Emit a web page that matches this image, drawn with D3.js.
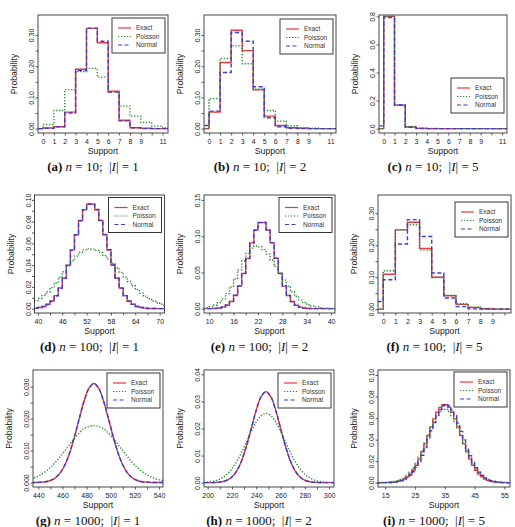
<!DOCTYPE html>
<html><head><meta charset="utf-8">
<script src="https://cdn.jsdelivr.net/npm/d3@7"></script>
<style>body{margin:0;background:#fff}svg{display:block}</style>
</head><body>
<script>
// ---------- data ----------
const smallX = [-1,0,1,2,3,4,5,6,7,8,9,10,11,12];
const aExact   = [0,0.002,0.006,0.053,0.19,0.321,0.275,0.12,0.027,0.003,0.001,0,0,0];
const aPoisson = [0,0.013,0.058,0.125,0.183,0.193,0.165,0.118,0.072,0.04,0.02,0.008,0.003,0];
const aNormal  = [0,0.001,0.006,0.05,0.186,0.322,0.28,0.117,0.025,0.003,0,0,0,0];

const bExact   = [0,0.053,0.212,0.315,0.25,0.124,0.04,0.01,0.003,0.001,0,0,0,0];
const bPoisson = [0,0.096,0.225,0.265,0.208,0.127,0.058,0.024,0.009,0.003,0.001,0,0,0];
const bNormal  = [0.01,0.056,0.18,0.308,0.28,0.134,0.035,0.006,0.001,0,0,0,0,0];

const cExact   = [0,0.8,0.168,0.012,0.002,0,0,0,0,0,0,0,0,0];
const cPoisson = [0,0.8,0.165,0.015,0.004,0.001,0,0,0,0,0,0,0,0];
const cNormal  = [0.02,0.792,0.17,0.01,0.001,0,0,0,0,0,0,0,0,0];

const dX = [38,39,40,41,42,43,44,45,46,47,48,49,50,51,52,53,54,55,56,57,58,59,60,61,62,63,64,65,66,67,68,69,70,71,72];
const dExact   = [0,0.0005,0.001,0.002,0.004,0.007,0.012,0.019,0.028,0.040,0.054,0.068,0.081,0.091,0.096,0.096,0.091,0.081,0.068,0.054,0.040,0.028,0.019,0.012,0.007,0.004,0.002,0.001,0.0005,0.0002,0.0001,0,0,0,0];
const dPoisson = [0.006,0.0075,0.0095,0.0122,0.0155,0.0193,0.0238,0.0287,0.0339,0.0391,0.044,0.0483,0.0518,0.054,0.055,0.0547,0.0536,0.0516,0.0488,0.0455,0.0417,0.0376,0.0334,0.0291,0.025,0.0211,0.0175,0.0143,0.0115,0.0091,0.0071,0.0054,0.0041,0.003,0.0022];
const dNormal  = [0,0.0004,0.001,0.002,0.0038,0.0068,0.0118,0.0188,0.0279,0.0398,0.0538,0.0679,0.0808,0.091,0.0962,0.0962,0.0912,0.0812,0.0682,0.0542,0.0401,0.028,0.0189,0.0119,0.0069,0.0039,0.002,0.001,0.0004,0.0002,0.0001,0,0,0,0];

const eX = [8,9,10,11,12,13,14,15,16,17,18,19,20,21,22,23,24,25,26,27,28,29,30,31,32,33,34,35,36,37,38,39,40,41,42];
const eExact   = [0,0,0.0001,0.0003,0.0009,0.0021,0.0048,0.0098,0.0182,0.0311,0.0486,0.0694,0.0908,0.1086,0.119,0.119,0.1086,0.0908,0.0694,0.0486,0.0311,0.0182,0.0098,0.0048,0.0021,0.0009,0.0003,0.0001,0,0,0,0,0,0,0];
const ePoisson = [0.0007,0.0014,0.0026,0.0048,0.0083,0.0135,0.0207,0.0301,0.0414,0.0537,0.0659,0.0763,0.0836,0.0865,0.0853,0.0815,0.0753,0.0673,0.0582,0.0487,0.0394,0.0308,0.0234,0.0171,0.0121,0.0083,0.0055,0.0036,0.0022,0.0013,0.0008,0.0004,0.0002,0.0001,0];
const eNormal  = [0,0,0.0001,0.0004,0.001,0.0023,0.005,0.0101,0.0185,0.0313,0.0487,0.0693,0.0905,0.1082,0.1188,0.1191,0.109,0.0912,0.0697,0.0488,0.0312,0.0182,0.0097,0.0047,0.002,0.0008,0.0003,0.0001,0,0,0,0,0,0,0];

const fX = [-1,0,1,2,3,4,5,6,7,8,9,10,11];
const fExact   = [0,0.109,0.248,0.272,0.19,0.10,0.042,0.015,0.005,0.0015,0,0,0];
const fPoisson = [0,0.12,0.248,0.264,0.185,0.099,0.044,0.017,0.006,0.002,0.0005,0,0];
const fNormal  = [0.024,0.092,0.204,0.28,0.227,0.113,0.035,0.008,0.001,0,0,0,0];

const gX = [434,438,442,446,450,454,458,462,466,470,474,478,482,486,490,494,498,502,506,510,514,518,522,526,530,534,538,542,546];
const gExact   = [0.00001,0.00003,0.0001,0.00025,0.00063,0.00143,0.00294,0.00549,0.00932,0.01436,0.0201,0.02558,0.02955,0.031,0.02955,0.02558,0.0201,0.01436,0.00932,0.00549,0.00294,0.00143,0.00063,0.00025,0.0001,0.00003,0.00001,0,0];
const gPoisson = [0.0011,0.00167,0.00244,0.00345,0.00472,0.00625,0.00801,0.00993,0.01191,0.01382,0.01551,0.01685,0.01755,0.0178,0.01755,0.01685,0.01551,0.01382,0.01191,0.00993,0.00801,0.00625,0.00472,0.00345,0.00244,0.00167,0.0011,0.0007,0.00044];
const gNormal  = [0.00001,0.00003,0.0001,0.00026,0.00064,0.00145,0.00296,0.0055,0.00934,0.01438,0.02012,0.02557,0.02952,0.03095,0.02952,0.02557,0.02012,0.01438,0.00934,0.0055,0.00296,0.00145,0.00064,0.00026,0.0001,0.00003,0.00001,0,0];

const hX = [192,196,200,204,208,212,216,220,224,228,232,236,240,244,248,252,256,260,264,268,272,276,280,284,288,292,296,300,304,308];
const hExact   = [0,0,0.00001,0.00003,0.00011,0.00034,0.00089,0.00208,0.00435,0.00813,0.01355,0.02016,0.02678,0.03175,0.0336,0.03175,0.02678,0.02016,0.01355,0.00813,0.00435,0.00208,0.00089,0.00034,0.00011,0.00003,0.00001,0,0,0];
const hPoisson = [0.00004,0.0001,0.00022,0.00048,0.00095,0.00178,0.00311,0.00511,0.00783,0.01124,0.01511,0.01904,0.02244,0.02477,0.0256,0.02477,0.02244,0.01904,0.01511,0.01124,0.00783,0.00511,0.00311,0.00178,0.00095,0.00048,0.00022,0.0001,0.00004,0.00002];
const hNormal  = [0,0,0.00001,0.00003,0.00011,0.00035,0.0009,0.0021,0.00437,0.00815,0.01357,0.02017,0.02676,0.0317,0.03352,0.0317,0.02676,0.02017,0.01357,0.00815,0.00437,0.0021,0.0009,0.00035,0.00011,0.00003,0.00001,0,0,0];

const iX = [12,13,14,15,16,17,18,19,20,21,22,23,24,25,26,27,28,29,30,31,32,33,34,35,36,37,38,39,40,41,42,43,44,45,46,47,48,49,50,51,52,53,54,55,56,57,58];
const iExact   = [0,0,0.00005,0.0001,0.0002,0.0004,0.0008,0.0013,0.0022,0.0035,0.0054,0.0081,0.0116,0.0162,0.0219,0.0286,0.0361,0.044,0.0519,0.0593,0.0655,0.070,0.0724,0.0724,0.070,0.0655,0.0593,0.0519,0.044,0.0361,0.0286,0.0219,0.0162,0.0116,0.0081,0.0054,0.0035,0.0022,0.0013,0.0008,0.0004,0.0002,0.0001,0.00005,0,0,0];
const iPoisson = [0.00005,0.0001,0.0002,0.0003,0.0005,0.0008,0.0013,0.002,0.0031,0.0047,0.0069,0.0098,0.0136,0.0182,0.0237,0.0299,0.0368,0.0438,0.0507,0.0571,0.0623,0.0661,0.068,0.068,0.0661,0.0623,0.0571,0.0507,0.0438,0.0368,0.0299,0.0237,0.0182,0.0136,0.0098,0.0069,0.0047,0.0031,0.002,0.0013,0.0008,0.0005,0.0003,0.0002,0.0001,0.00005,0];
const iNormal  = [0,0,0.00003,0.00008,0.00015,0.0003,0.0006,0.0011,0.0018,0.003,0.0046,0.0069,0.0101,0.0142,0.0193,0.0255,0.0326,0.0403,0.0482,0.0558,0.0627,0.0681,0.0715,0.0726,0.0713,0.0677,0.0622,0.0553,0.0477,0.0398,0.0321,0.0251,0.019,0.0139,0.0098,0.0067,0.0045,0.0029,0.0018,0.0011,0.0006,0.0003,0.00015,0.00008,0.00003,0,0];

// tick values and labels
const xTicks11 = [0,1,2,3,4,5,6,7,8,9,10,11];
const xLabels11 = ["0","1","2","3","4","5","6","7","8","9","","11"];
const xTicksF = [0,1,2,3,4,5,6,7,8,9,10];
const xLabelsF = ["0","1","2","3","4","5","6","7","8","9",""];
const xTicksD = [40,43,46,49,52,55,58,61,64,67,70];
const xLabelsD = ["40","","46","","52","","58","","64","","70"];
const xTicksE = [10,13,16,19,22,25,28,31,34,37,40];
const xLabelsE = ["10","","16","","22","","28","","34","","40"];
const xTicksG = [440,450,460,470,480,490,500,510,520,530,540];
const xLabelsG = ["440","","460","","480","","500","","520","","540"];
const xTicksH = [200,210,220,230,240,250,260,270,280,290,300];
const xLabelsH = ["200","","220","","240","","260","","280","","300"];
const xTicksI = [15,25,35,45,55];
const xLabelsI = ["15","25","35","45","55"];

const yTicks30 = [0,0.05,0.10,0.15,0.20,0.25,0.30];
const yLabels30 = ["0.00","","0.10","","0.20","","0.30"];
const yTicksC = [0,0.2,0.4,0.6,0.8];
const yLabelsC = ["0.0","0.2","0.4","0.6","0.8"];
const yTicksD = [0,0.01,0.02,0.03,0.04,0.05,0.06,0.07,0.08,0.09,0.10];
const yLabelsD = ["0.00","","0.02","","0.04","","0.06","","0.08","","0.10"];
const yTicksE = [0,0.05,0.10,0.15];
const yLabelsE = ["0.00","0.05","0.10","0.15"];
const yTicksG = [0,0.005,0.010,0.015,0.020,0.025,0.030];
const yLabelsG = ["0.000","","0.010","","0.020","","0.030"];
const yTicksH = [0,0.01,0.02,0.03,0.04];
const yLabelsH = ["0.00","0.01","0.02","0.03","0.04"];
const yTicksI = [0,0.02,0.04,0.06,0.08,0.10];
const yLabelsI = ["0.00","0.02","0.04","0.06","0.08","0.10"];

const legendNames = ["Exact","Poisson","Normal"];
const captionLetters = ["a","b","c","d","e","f","g","h","i"];
const captionN = ["10","10","10","100","100","100","1000","1000","1000"];
const captionI = ["1","2","5","1","2","5","1","2","5"];

// ---------- layout ----------
const panels = [
  {box:[38,15,168,133],  xd:[-0.46,11.5], yd:[-0.014,0.364], xs:smallX, s:[aExact,aPoisson,aNormal], step:true, xt:xTicks11, xl:xLabels11, yt:yTicks30, yl:yLabels30, legTop:18},
  {box:[204,15,336,133], xd:[-0.46,11.5], yd:[-0.014,0.364], xs:smallX, s:[bExact,bPoisson,bNormal], step:true, xt:xTicks11, xl:xLabels11, yt:yTicks30, yl:yLabels30, legTop:19},
  {box:[379,15,507,133], xd:[-0.44,11.45], yd:[-0.031,0.81], xs:smallX, s:[cExact,cPoisson,cNormal], step:true, xt:xTicks11, xl:xLabels11, yt:yTicksC, yl:yLabelsC, legTop:78},
  {box:[34.5,195,164.5,313], xd:[39.15,71.2], yd:[-0.004,0.1045], xs:dX, s:[dExact,dPoisson,dNormal], step:true, xt:xTicksD, xl:xLabelsD, yt:yTicksD, yl:yLabelsD, legTop:197.5},
  {box:[204,195,335,313], xd:[8.72,40.98], yd:[-0.006,0.157], xs:eX, s:[eExact,ePoisson,eNormal], step:true, xt:xTicksE, xl:xLabelsE, yt:yTicksE, yl:yLabelsE, legTop:197.5},
  {box:[378,195,511,313], xd:[-0.43,10.54], yd:[-0.012,0.357], xs:fX, s:[fExact,fPoisson,fNormal], step:true, xt:xTicksF, xl:xLabelsF, yt:yTicks30, yl:yLabels30, legTop:202},
  {box:[33,370,163,487], xd:[435.6,543.3], yd:[-0.0014,0.0352], xs:gX, s:[gExact,gPoisson,gNormal], step:false, xt:xTicksG, xl:xLabelsG, yt:yTicksG, yl:yLabelsG, legTop:373},
  {box:[204,370,334,487], xd:[197,304], yd:[-0.0016,0.0416], xs:hX, s:[hExact,hPoisson,hNormal], step:false, xt:xTicksH, xl:xLabelsH, yt:yTicksH, yl:yLabelsH, legTop:373},
  {box:[378,370,510,487], xd:[12.6,56.9], yd:[-0.004,0.1047], xs:iX, s:[iExact,iPoisson,iNormal], step:true, xt:xTicksI, xl:xLabelsI, yt:yTicksI, yl:yLabelsI, legTop:372}
];

const COL = ["#e23a3f","#2a8a2e","#3c3ccf"];
const DASH = [null,"1.3,1.7","4,2.5"];
const SANS = "'Liberation Sans', Arial, Helvetica, sans-serif";
const SERIF = "'Liberation Serif', 'Times New Roman', 'DejaVu Serif', serif";

const svg = d3.select("body").append("svg").attr("width",515).attr("height",527);
const defs = svg.append("defs");

panels.forEach((p,pi)=>{
  const [x0,y0,x1,y1] = p.box;
  const x = d3.scaleLinear().domain(p.xd).range([x0,x1]);
  const y = d3.scaleLinear().domain(p.yd).range([y1,y0]);
  const cid = "clip"+pi;
  defs.append("clipPath").attr("id",cid).append("rect")
    .attr("x",x0).attr("y",y0).attr("width",x1-x0).attr("height",y1-y0);
  const g = svg.append("g");
  const plot = g.append("g").attr("clip-path",`url(#${cid})`);
  const line = d3.line().x((d,i)=>x(p.xs[i])).y(d=>y(d))
    .curve(p.step ? d3.curveStepAfter : d3.curveCatmullRom.alpha(0.5));
  p.s.forEach((vals,k)=>{
    plot.append("path").attr("d",line(vals)).attr("fill","none")
      .attr("stroke",COL[k]).attr("stroke-width",1.4)
      .attr("stroke-dasharray",DASH[k]);
  });
  g.append("rect").attr("x",x0).attr("y",y0).attr("width",x1-x0).attr("height",y1-y0)
    .attr("fill","none").attr("stroke","#333").attr("stroke-width",0.9);

  // x axis
  const xa = g.append("g").attr("transform",`translate(0,${y1})`)
    .call(d3.axisBottom(x).tickValues(p.xt).tickFormat((d,i)=>p.xl[i]).tickSize(2.5).tickPadding(4));
  xa.select(".domain").remove();
  xa.attr("font-size",7).attr("font-family",SANS);
  xa.selectAll("line").attr("stroke","#333").attr("stroke-width",0.8);
  xa.selectAll("text").attr("fill","#222");

  // y axis
  const ya = g.append("g").attr("transform",`translate(${x0},0)`)
    .call(d3.axisLeft(y).tickValues(p.yt).tickFormat((d,i)=>p.yl[i]).tickSize(2.5));
  ya.select(".domain").remove();
  ya.attr("font-size",7).attr("font-family",SANS);
  ya.selectAll("line").attr("stroke","#333").attr("stroke-width",0.8);
  ya.selectAll("text").attr("fill","#222").attr("x",0).attr("dy",null)
    .attr("text-anchor","middle").attr("transform","translate(-4,0) rotate(-90)");

  // axis titles
  g.append("text").attr("transform",`translate(${x0-21},${(y0+y1)/2}) rotate(-90)`)
    .attr("text-anchor","middle").attr("font-size",8.7).attr("font-family",SANS).attr("fill","#222")
    .text("Probability");
  g.append("text").attr("x",(x0+x1)/2).attr("y",y1+20.5)
    .attr("text-anchor","middle").attr("font-size",8.7).attr("font-family",SANS).attr("fill","#222")
    .text("Support");

  // legend
  const lw = 53, lh = 35;
  const lx = x1 - 3 - lw, ly = p.legTop;
  const lg = g.append("g");
  lg.append("rect").attr("x",lx).attr("y",ly).attr("width",lw).attr("height",lh)
    .attr("fill","#fff").attr("stroke","#222").attr("stroke-width",0.9);
  legendNames.forEach((nm,k)=>{
    const ry = ly + 10 + k*8.5;
    lg.append("line").attr("x1",lx+6).attr("x2",lx+19).attr("y1",ry).attr("y2",ry)
      .attr("stroke",COL[k]).attr("stroke-width",1.2).attr("stroke-dasharray",DASH[k]);
    lg.append("text").attr("x",lx+24).attr("y",ry+2.3).attr("font-size",6.5)
      .attr("font-family",SANS).attr("fill","#333").text(nm);
  });

  // caption
  const cap = g.append("text").attr("x",(x0+x1)/2-10).attr("y",y1+37.5)
    .attr("text-anchor","middle").attr("font-size",13).attr("font-family",SERIF)
    .attr("fill","#111").style("white-space","pre");
  cap.append("tspan").attr("font-weight","bold").text("("+captionLetters[pi]+")");
  cap.append("tspan").text(" ");
  cap.append("tspan").attr("font-style","italic").text("n");
  cap.append("tspan").text(" = "+captionN[pi]+";  |");
  cap.append("tspan").attr("font-style","italic").text("I");
  cap.append("tspan").text("| = "+captionI[pi]);
});
</script>
</body></html>
